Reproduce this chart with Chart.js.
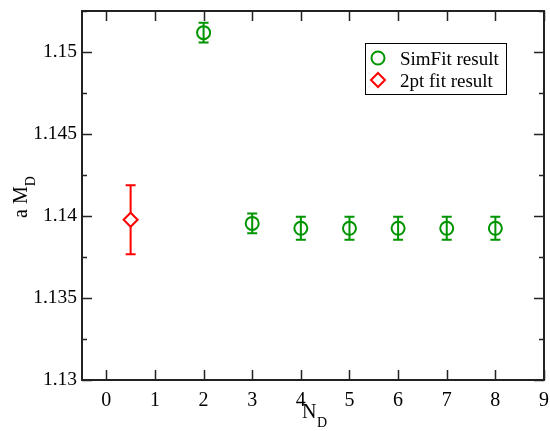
<!DOCTYPE html>
<html>
<head>
<meta charset="utf-8">
<script src="https://cdn.jsdelivr.net/npm/chart.js@4/dist/chart.umd.min.js"></script>
<style>
  html, body { margin: 0; padding: 0; background: #fff; }
  #wrap { width: 550px; height: 431px; }
</style>
</head>
<body>
<div id="wrap"><canvas id="chart" width="550" height="431"></canvas></div>
<script>
// data
const simX = [2, 3, 4, 5, 6, 7, 8];
const simY = [1.15118, 1.13955, 1.13925, 1.13925, 1.13925, 1.13925, 1.13925];
const simErr = [0.0006, 0.0006, 0.0007, 0.0007, 0.0007, 0.0007, 0.0007];

const twoX = [0.5];
const twoY = [1.13977];
const twoErr = [0.0021];

const xTicks = [0, 1, 2, 3, 4, 5, 6, 7, 8, 9];
const yTicks = [1.13, 1.135, 1.14, 1.145, 1.15];
const yMinor = [1.1325, 1.1375, 1.1425, 1.1475, 1.1525];

const green = '#009400';
const red = '#ff0000';
const serif = '"Liberation Serif", "DejaVu Serif", serif';
const plotRight = 544;

function toPoints(xs, ys, errs) {
    return xs.map((x, i) => ({ x: x, y: ys[i], err: errs[i] }));
}

// the x label overflow keeps eating into the right side, so pin it
const pinRight = {
    id: 'pinRight',
    afterLayout(chart) {
        const xs = chart.scales.x;
        chart.chartArea.right = plotRight;
        chart.chartArea.width = plotRight - chart.chartArea.left;
        xs.right = plotRight;
        xs.width = plotRight - xs.left;
        xs.configure();
    }
};

// error bars, drawn under the markers
const errorBars = {
    id: 'errorBars',
    beforeDatasetsDraw(chart) {
        const ctx = chart.ctx;
        const xs = chart.scales.x, ys = chart.scales.y;
        chart.data.datasets.forEach(ds => {
            ctx.save();
            ctx.strokeStyle = ds.borderColor;
            ctx.lineWidth = 2;
            ds.data.forEach(p => {
                let px = xs.getPixelForValue(p.x);
                let top = ys.getPixelForValue(p.y + p.err);
                let bot = ys.getPixelForValue(p.y - p.err);
                ctx.beginPath();
                ctx.moveTo(px, top); ctx.lineTo(px, bot);
                ctx.moveTo(px - 5, top); ctx.lineTo(px + 5, top);
                ctx.moveTo(px - 5, bot); ctx.lineTo(px + 5, bot);
                ctx.stroke();
            });
            ctx.restore();
        });
    }
};

// frame, inward ticks, axis titles and legend box
const frame = {
    id: 'frame',
    afterDraw(chart) {
        const ctx = chart.ctx;
        const a = chart.chartArea;
        const xs = chart.scales.x, ys = chart.scales.y;
        ctx.save();
        ctx.strokeStyle = '#222';
        ctx.lineWidth = 2;
        ctx.strokeRect(a.left, a.top, a.right - a.left, a.bottom - a.top);

        ctx.lineWidth = 1.5;
        ctx.beginPath();
        xTicks.forEach(v => {
            let px = Math.round(xs.getPixelForValue(v)) + 0.5;
            ctx.moveTo(px, a.bottom); ctx.lineTo(px, a.bottom - 10);
            ctx.moveTo(px, a.top); ctx.lineTo(px, a.top + 10);
        });
        yTicks.forEach(v => {
            let py = Math.round(ys.getPixelForValue(v)) + 0.5;
            ctx.moveTo(a.left, py); ctx.lineTo(a.left + 10, py);
            ctx.moveTo(a.right, py); ctx.lineTo(a.right - 10, py);
        });
        yMinor.forEach(v => {
            let py = Math.round(ys.getPixelForValue(v)) + 0.5;
            ctx.moveTo(a.left, py); ctx.lineTo(a.left + 5, py);
            ctx.moveTo(a.right, py); ctx.lineTo(a.right - 5, py);
        });
        ctx.stroke();

        // axis titles
        ctx.fillStyle = '#000';
        ctx.textBaseline = 'alphabetic';
        ctx.font = '20px ' + serif;
        ctx.textAlign = 'left';
        ctx.fillText('N', 302, 418);
        ctx.font = '14px ' + serif;
        ctx.fillText('D', 317, 427);

        ctx.save();
        ctx.translate(27, 218);
        ctx.rotate(-Math.PI / 2);
        ctx.font = '20px ' + serif;
        ctx.fillText('a M', 0, 0);
        let w = ctx.measureText('a M').width;
        ctx.font = '14px ' + serif;
        ctx.fillText('D', w, 8);
        ctx.restore();

        // legend
        ctx.lineWidth = 1;
        ctx.strokeStyle = '#000';
        ctx.strokeRect(365.5, 43.5, 141, 51);
        ctx.lineWidth = 2;
        ctx.strokeStyle = green;
        ctx.beginPath();
        ctx.arc(378, 58, 6.5, 0, Math.PI * 2);
        ctx.stroke();
        ctx.strokeStyle = red;
        ctx.beginPath();
        ctx.moveTo(378, 73); ctx.lineTo(385, 80); ctx.lineTo(378, 87); ctx.lineTo(371, 80);
        ctx.closePath();
        ctx.stroke();
        ctx.fillStyle = '#000';
        ctx.font = '19px ' + serif;
        ctx.fillText('SimFit result', 400, 65);
        ctx.fillText('2pt fit result', 400, 87);
        ctx.restore();
    }
};

new Chart(document.getElementById('chart'), {
    type: 'scatter',
    data: {
        datasets: [
            {
                label: 'SimFit result',
                data: toPoints(simX, simY, simErr),
                borderColor: green,
                backgroundColor: 'rgba(0,0,0,0)',
                pointStyle: 'circle',
                pointRadius: 6.5,
                pointBorderWidth: 2
            },
            {
                label: '2pt fit result',
                data: toPoints(twoX, twoY, twoErr),
                borderColor: red,
                backgroundColor: '#fff',
                pointStyle: 'rectRot',
                pointRadius: 7,
                pointBorderWidth: 2
            }
        ]
    },
    options: {
        responsive: false,
        animation: false,
        layout: { padding: { top: 11, right: 6, left: 0, bottom: 0 } },
        plugins: {
            legend: { display: false },
            tooltip: { enabled: false }
        },
        scales: {
            x: {
                type: 'linear',
                min: -0.5,
                max: 9,
                grid: { display: false, drawTicks: false },
                border: { display: false },
                afterBuildTicks: s => { s.ticks = xTicks.map(v => ({ value: v })); },
                afterFit: s => {
                    s.height = 51;
                    s.paddingLeft = 0; s.paddingRight = 0;
                },
                ticks: {
                    color: '#000',
                    padding: 9,
                    maxRotation: 0,
                    font: { family: serif, size: 20 },
                    callback: v => String(v)
                }
            },
            y: {
                type: 'linear',
                min: 1.13,
                max: 1.1525,
                grid: { display: false, drawTicks: false },
                border: { display: false },
                afterBuildTicks: s => { s.ticks = yTicks.map(v => ({ value: v })); },
                afterFit: s => {
                    s.width = 82;
                    s.paddingTop = 0; s.paddingBottom = 0;
                },
                ticks: {
                    color: '#000',
                    padding: 5,
                    font: { family: serif, size: 19.5 },
                    callback: v => String(Math.round(v * 1000) / 1000)
                }
            }
        }
    },
    plugins: [pinRight, errorBars, frame]
});
</script>
</body>
</html>
